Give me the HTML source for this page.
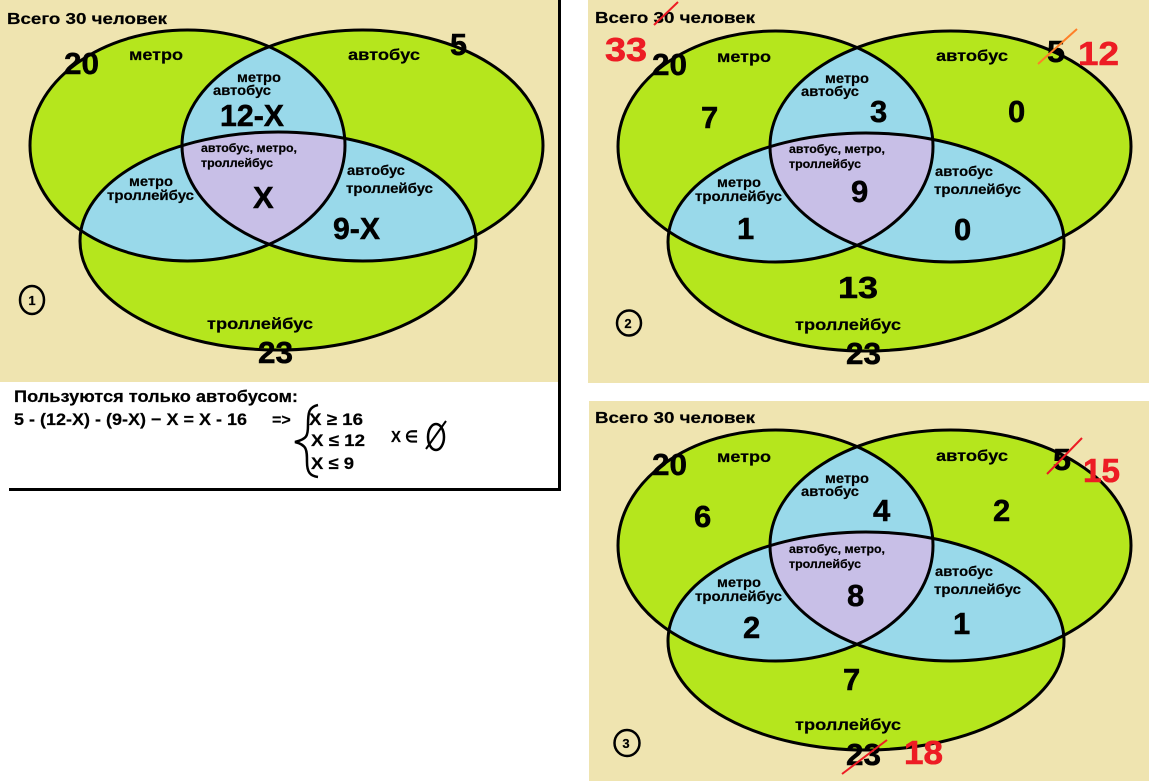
<!DOCTYPE html>
<html><head><meta charset="utf-8"><style>
html,body{margin:0;padding:0;background:#fff;width:1149px;height:782px;overflow:hidden}
svg{display:block}
text{font-family:"Liberation Sans",sans-serif;font-weight:bold;fill:#000;stroke:#000;stroke-width:.2}
.h{font-size:16px}.m{font-size:16px}.s{font-size:14px}.t{font-size:11.5px}.b{font-size:31px;stroke-width:.5}
.r{fill:#ed1c24;stroke:#ed1c24;stroke-width:.6;font-size:33px}
</style></head><body>
<svg width="1149" height="782" viewBox="0 0 1149 782" xmlns="http://www.w3.org/2000/svg">
<defs>
<clipPath id="cm"><ellipse cx="187.5" cy="145.5" rx="157.5" ry="115.5"/></clipPath>
<clipPath id="ca"><ellipse cx="362.5" cy="145.5" rx="180.5" ry="115.5"/></clipPath>
<g id="venn">
<ellipse cx="187.5" cy="145.5" rx="157.5" ry="115.5" fill="#b5e61d"/>
<ellipse cx="362.5" cy="145.5" rx="180.5" ry="115.5" fill="#b5e61d"/>
<ellipse cx="278" cy="241" rx="198" ry="109" fill="#b5e61d"/>
<g clip-path="url(#cm)"><ellipse cx="362.5" cy="145.5" rx="180.5" ry="115.5" fill="#99d9ea"/><ellipse cx="278" cy="241" rx="198" ry="109" fill="#99d9ea"/></g>
<g clip-path="url(#ca)"><ellipse cx="278" cy="241" rx="198" ry="109" fill="#99d9ea"/></g>
<g clip-path="url(#ca)"><g clip-path="url(#cm)"><ellipse cx="278" cy="241" rx="198" ry="109" fill="#c8bfe7"/></g></g>
<g fill="none" stroke="#000" stroke-width="3">
<ellipse cx="187.5" cy="145.5" rx="157.5" ry="115.5"/>
<ellipse cx="362.5" cy="145.5" rx="180.5" ry="115.5"/>
<ellipse cx="278" cy="241" rx="198" ry="109"/>
</g>
</g>
</defs>
<rect x="0" y="0" width="558" height="382" fill="#efe4b0"/>
<rect x="588" y="0" width="561" height="383" fill="#efe4b0"/>
<rect x="589" y="401" width="560" height="380" fill="#efe4b0"/>
<rect x="558" y="0" width="3" height="491" fill="#000"/>
<rect x="9" y="488" width="552" height="3" fill="#000"/>

<!-- Panel 1 -->
<use href="#venn"/>
<g>
<text x="7" y="24" class="h" textLength="160" lengthAdjust="spacingAndGlyphs">Всего 30 человек</text>
<text x="129" y="60" class="m" textLength="54" lengthAdjust="spacingAndGlyphs">метро</text>
<text x="348" y="60" class="m" textLength="72" lengthAdjust="spacingAndGlyphs">автобус</text>
<text x="64" y="74" class="b" textLength="35" lengthAdjust="spacingAndGlyphs">20</text>
<text x="450" y="55" class="b" textLength="17" lengthAdjust="spacingAndGlyphs">5</text>
<text x="237" y="82" class="s" textLength="44" lengthAdjust="spacingAndGlyphs">метро</text>
<text x="213" y="95" class="s" textLength="58" lengthAdjust="spacingAndGlyphs">автобус</text>
<text x="220" y="126" class="b" textLength="64" lengthAdjust="spacingAndGlyphs">12-X</text>
<text x="201" y="152" class="t" textLength="96" lengthAdjust="spacingAndGlyphs">автобус, метро,</text>
<text x="201" y="167" class="t" textLength="72" lengthAdjust="spacingAndGlyphs">троллейбус</text>
<text x="253" y="208" class="b">X</text>
<text x="129" y="186" class="s" textLength="44" lengthAdjust="spacingAndGlyphs">метро</text>
<text x="107" y="200" class="s" textLength="87" lengthAdjust="spacingAndGlyphs">троллейбус</text>
<text x="347" y="175" class="s" textLength="58" lengthAdjust="spacingAndGlyphs">автобус</text>
<text x="346" y="193" class="s" textLength="87" lengthAdjust="spacingAndGlyphs">троллейбус</text>
<text x="333" y="239" class="b" textLength="47" lengthAdjust="spacingAndGlyphs">9-X</text>
<text x="207" y="329" class="m" textLength="106" lengthAdjust="spacingAndGlyphs">троллейбус</text>
<text x="258" y="363" class="b" textLength="35" lengthAdjust="spacingAndGlyphs">23</text>
<ellipse cx="32" cy="300" rx="12" ry="14" fill="none" stroke="#000" stroke-width="2.5"/>
<text x="32" y="305" class="t" text-anchor="middle" style="font-size:13px">1</text>
<text x="14" y="402" class="m" style="font-size:17px" textLength="284" lengthAdjust="spacingAndGlyphs">Пользуются только автобусом:</text>
<text x="14" y="425" class="m" style="font-size:17px" textLength="233" lengthAdjust="spacingAndGlyphs">5 - (12-X) - (9-X) − X = X - 16</text>
<text x="272" y="425" class="m">=&gt;</text>
<text x="309" y="425" class="m" style="font-size:17px" textLength="54" lengthAdjust="spacingAndGlyphs">X ≥ 16</text>
<text x="311" y="446" class="m" style="font-size:17px" textLength="54" lengthAdjust="spacingAndGlyphs">X ≤ 12</text>
<text x="311" y="469" class="m" style="font-size:17px" textLength="43" lengthAdjust="spacingAndGlyphs">X ≤ 9</text>
<text x="391" y="442" class="m" textLength="27" lengthAdjust="spacingAndGlyphs">X ∈</text>
<path d="M318 405C309 407 308 412 308 425C308 436 307 439 295 442C307 445 307 450 307 462C307 472 310 476 318 477" fill="none" stroke="#000" stroke-width="2.5"/>
<ellipse cx="436" cy="437" rx="8" ry="13" fill="none" stroke="#000" stroke-width="2.5"/>
<line x1="426" y1="449" x2="446" y2="421" stroke="#000" stroke-width="2"/>
</g>

<!-- Panel 2 -->
<use href="#venn" transform="translate(588,1)"/>
<g>
<text x="595" y="23" class="h" textLength="160" lengthAdjust="spacingAndGlyphs">Всего 30 человек</text>
<text x="717" y="62" class="m" textLength="54" lengthAdjust="spacingAndGlyphs">метро</text>
<text x="936" y="61" class="m" textLength="72" lengthAdjust="spacingAndGlyphs">автобус</text>
<text x="652" y="75" class="b" textLength="35" lengthAdjust="spacingAndGlyphs">20</text>
<text x="1047" y="62" class="b" textLength="18" lengthAdjust="spacingAndGlyphs">5</text>
<text x="825" y="83" class="s" textLength="44" lengthAdjust="spacingAndGlyphs">метро</text>
<text x="801" y="96" class="s" textLength="58" lengthAdjust="spacingAndGlyphs">автобус</text>
<text x="789" y="153" class="t" textLength="96" lengthAdjust="spacingAndGlyphs">автобус, метро,</text>
<text x="789" y="168" class="t" textLength="72" lengthAdjust="spacingAndGlyphs">троллейбус</text>
<text x="717" y="187" class="s" textLength="44" lengthAdjust="spacingAndGlyphs">метро</text>
<text x="695" y="201" class="s" textLength="87" lengthAdjust="spacingAndGlyphs">троллейбус</text>
<text x="935" y="176" class="s" textLength="58" lengthAdjust="spacingAndGlyphs">автобус</text>
<text x="934" y="194" class="s" textLength="87" lengthAdjust="spacingAndGlyphs">троллейбус</text>
<text x="795" y="330" class="m" textLength="106" lengthAdjust="spacingAndGlyphs">троллейбус</text>
<text x="846" y="364" class="b" textLength="35" lengthAdjust="spacingAndGlyphs">23</text>
<text x="701" y="128" class="b">7</text>
<text x="870" y="122" class="b">3</text>
<text x="1008" y="122" class="b">0</text>
<text x="851" y="202" class="b">9</text>
<text x="737" y="239" class="b">1</text>
<text x="954" y="240" class="b">0</text>
<text x="838" y="298" class="b" textLength="40" lengthAdjust="spacingAndGlyphs">13</text>
<ellipse cx="629" cy="323" rx="12" ry="12.5" fill="none" stroke="#000" stroke-width="2.5"/>
<text x="628" y="328" class="t" text-anchor="middle" style="font-size:13px">2</text>
<text class="r" x="605" y="61" textLength="42" lengthAdjust="spacingAndGlyphs">33</text>
<text class="r" x="1078" y="65" textLength="41" lengthAdjust="spacingAndGlyphs">12</text>
<line x1="654" y1="25" x2="678" y2="2" stroke="#ed1c24" stroke-width="2"/>
<line x1="1038" y1="64" x2="1077" y2="29" stroke="#ff7f27" stroke-width="2"/>
</g>

<!-- Panel 3 -->
<use href="#venn" transform="translate(588,400)"/>
<g>
<text x="595" y="423" class="h" textLength="160" lengthAdjust="spacingAndGlyphs">Всего 30 человек</text>
<text x="717" y="462" class="m" textLength="54" lengthAdjust="spacingAndGlyphs">метро</text>
<text x="936" y="461" class="m" textLength="72" lengthAdjust="spacingAndGlyphs">автобус</text>
<text x="652" y="475" class="b" textLength="35" lengthAdjust="spacingAndGlyphs">20</text>
<text x="1053" y="470" class="b" textLength="18" lengthAdjust="spacingAndGlyphs">5</text>
<text x="825" y="483" class="s" textLength="44" lengthAdjust="spacingAndGlyphs">метро</text>
<text x="801" y="496" class="s" textLength="58" lengthAdjust="spacingAndGlyphs">автобус</text>
<text x="789" y="553" class="t" textLength="96" lengthAdjust="spacingAndGlyphs">автобус, метро,</text>
<text x="789" y="568" class="t" textLength="72" lengthAdjust="spacingAndGlyphs">троллейбус</text>
<text x="717" y="587" class="s" textLength="44" lengthAdjust="spacingAndGlyphs">метро</text>
<text x="695" y="601" class="s" textLength="87" lengthAdjust="spacingAndGlyphs">троллейбус</text>
<text x="935" y="576" class="s" textLength="58" lengthAdjust="spacingAndGlyphs">автобус</text>
<text x="934" y="594" class="s" textLength="87" lengthAdjust="spacingAndGlyphs">троллейбус</text>
<text x="795" y="730" class="m" textLength="106" lengthAdjust="spacingAndGlyphs">троллейбус</text>
<text x="846" y="765" class="b" textLength="35" lengthAdjust="spacingAndGlyphs">23</text>
<text x="694" y="527" class="b">6</text>
<text x="873" y="521" class="b">4</text>
<text x="993" y="521" class="b">2</text>
<text x="847" y="606" class="b">8</text>
<text x="743" y="638" class="b">2</text>
<text x="953" y="634" class="b">1</text>
<text x="843" y="690" class="b">7</text>
<ellipse cx="627" cy="743" rx="12.5" ry="13" fill="none" stroke="#000" stroke-width="2.5"/>
<text x="626" y="748" class="t" text-anchor="middle" style="font-size:13px">3</text>
<text class="r" x="1083" y="482" textLength="37" lengthAdjust="spacingAndGlyphs">15</text>
<text class="r" x="904" y="764" textLength="39" lengthAdjust="spacingAndGlyphs">18</text>
<line x1="1047" y1="474" x2="1082" y2="438" stroke="#ed1c24" stroke-width="2"/>
<line x1="842" y1="774" x2="887" y2="740" stroke="#ed1c24" stroke-width="2"/>
</g>
</svg>
</body></html>
